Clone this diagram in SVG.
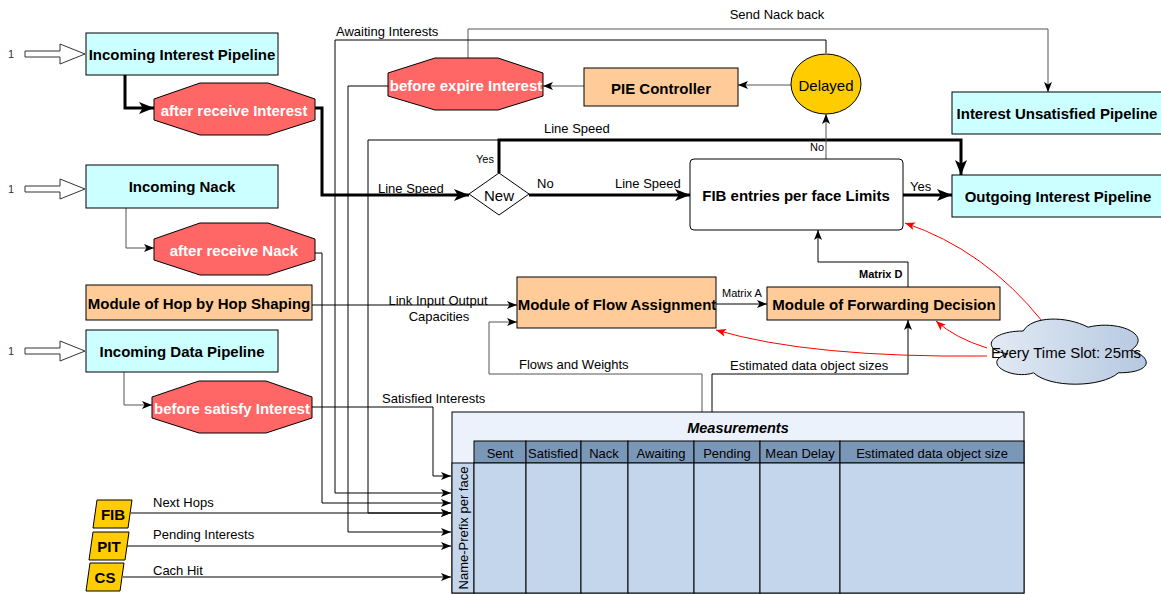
<svg xmlns="http://www.w3.org/2000/svg" width="1161" height="594" viewBox="0 0 1161 594">
<style>
text{font-family:"Liberation Sans",Arial,Helvetica,sans-serif;dominant-baseline:central;fill:#000}
.b14{font-size:15px;font-weight:bold;text-anchor:middle}
.w14{font-size:15px;font-weight:bold;text-anchor:middle;fill:#fff}
.l12{font-size:13px}
.c12{font-size:13px;text-anchor:middle}
.s10{font-size:11px}
.one{font-size:11px;fill:#333;text-anchor:middle}
.pipe{fill:#ccffff;stroke:#000;stroke-width:1}
.oct{fill:#ff6666;stroke:#000;stroke-width:1}
.mod{fill:#ffcc99;stroke:#000;stroke-width:1}
.tbl{fill:#ffcc00;stroke:#000;stroke-width:1}
.hol{fill:#fff;stroke:#333;stroke-width:1}
.c{fill:none;stroke:#000;stroke-width:1}
.g{stroke:#555}
.t{stroke-width:3}
.r{fill:none;stroke:#ff0000;stroke-width:1}
.hd{fill:#7a97b8;stroke:#000;stroke-width:1}
.bd{fill:#c4d6ec;stroke:#000;stroke-width:1}
</style>
<defs>
<marker id="a" viewBox="0 0 10 8" refX="10" refY="4" markerWidth="10" markerHeight="8" markerUnits="userSpaceOnUse" orient="auto"><path d="M0 0L10 4L0 8L2.5 4Z" fill="#000"/></marker>
<marker id="at" viewBox="0 0 10 8" refX="10" refY="4" markerWidth="15" markerHeight="12" markerUnits="userSpaceOnUse" orient="auto"><path d="M0 0L10 4L0 8L2.5 4Z" fill="#000"/></marker>
<marker id="ar" viewBox="0 0 10 8" refX="10" refY="4" markerWidth="10" markerHeight="8" markerUnits="userSpaceOnUse" orient="auto"><path d="M0 0L10 4L0 8L2.5 4Z" fill="#ff0000"/></marker>
<linearGradient id="cg" x1="0" y1="0" x2="1" y2="0"><stop offset="0" stop-color="#e2eaf4"/><stop offset="1" stop-color="#b6c8e1"/></linearGradient>
</defs>

<g id="input-arrows">
<text class="one" x="11" y="54">1</text>
<polygon class="hol" points="25,51 60,51 60,44 85,54 60,64 60,57 25,57"/>
<text class="one" x="11" y="189">1</text>
<polygon class="hol" points="25,186 60,186 60,179 85,189 60,199 60,192 25,192"/>
<text class="one" x="11" y="351">1</text>
<polygon class="hol" points="25,348 60,348 60,341 85,351 60,361 60,354 25,354"/>
</g>

<g id="connectors">
<path class="c t" d="M125 75V108H154" marker-end="url(#at)"/>
<path class="c t" d="M315 108H322V195H469" marker-end="url(#at)"/>
<path class="c t" d="M529 195H690" marker-end="url(#at)"/>
<path class="c t" d="M499 173V140H961V175" marker-end="url(#at)"/>
<path class="c t" d="M903 195H952" marker-end="url(#at)"/>
<path class="c" d="M499 140H368V513H451" marker-end="url(#a)"/>
<path class="c g" d="M826 159V114" marker-end="url(#a)"/>
<path class="c g" d="M791 85H738" marker-end="url(#a)"/>
<path class="c g" d="M584 86H543" marker-end="url(#a)"/>
<path class="c g" d="M468 58V29H1048V92" marker-end="url(#a)"/>
<path class="c" d="M826 53V40H335V493H451" marker-end="url(#a)"/>
<path class="c" d="M388 86H348V532H451" marker-end="url(#a)"/>
<path class="c" d="M315 253H322V503H451" marker-end="url(#a)"/>
<path class="c" d="M312 407H433V476H451" marker-end="url(#a)"/>
<path class="c g" d="M126 208V248H154" marker-end="url(#a)"/>
<path class="c g" d="M124 372V405H152" marker-end="url(#a)"/>
<path class="c" d="M312 305H517" marker-end="url(#a)"/>
<path class="c g" d="M702 412V374H489V322H517" marker-end="url(#a)"/>
<path class="c" d="M712 412V374H908V320" marker-end="url(#a)"/>
<path class="c" d="M716 304H767" marker-end="url(#a)"/>
<path class="c" d="M908 287V262H818V230" marker-end="url(#a)"/>
<path class="c" d="M131 513H451" marker-end="url(#a)"/>
<path class="c" d="M127 546H451" marker-end="url(#a)"/>
<path class="c" d="M123 577H451" marker-end="url(#a)"/>
<path class="r" d="M1042 321Q985 250 905 223" marker-end="url(#ar)"/>
<path class="r" d="M987 348Q955 338 936 321" marker-end="url(#ar)"/>
<path class="r" d="M987 356Q810 358 716 330" marker-end="url(#ar)"/>
</g>

<g id="connector-labels">
<text class="l12" x="336" y="31">Awaiting Interests</text>
<text class="c12" x="777" y="14">Send Nack back</text>
<text class="l12" x="378" y="188">Line Speed</text>
<text class="s10" x="476" y="159">Yes</text>
<text class="l12" x="544" y="128">Line Speed</text>
<text class="l12" x="537" y="183">No</text>
<text class="l12" x="615" y="183">Line Speed</text>
<text class="l12" x="910" y="186">Yes</text>
<text class="s10" x="810" y="147">No</text>
<text class="c12" x="438" y="300">Link Input Output</text>
<text class="c12" x="439" y="316">Capacities</text>
<text class="l12" x="382" y="398">Satisfied Interests</text>
<text x="722" y="293" style="font-size:11px">Matrix A</text>
<text x="859" y="274" style="font-size:11px;font-weight:bold">Matrix D</text>
<text class="l12" x="519" y="364">Flows and Weights</text>
<text class="l12" x="730" y="365">Estimated data object sizes</text>
<text class="l12" x="153" y="502">Next Hops</text>
<text class="l12" x="153" y="534">Pending Interests</text>
<text class="l12" x="153" y="570">Cach Hit</text>
</g>

<g id="incoming-interest-pipeline">
<rect class="pipe" x="86" y="33" width="192" height="42"/>
<text class="b14" x="182" y="54">Incoming Interest Pipeline</text>
</g>
<g id="after-receive-interest">
<polygon class="oct" points="200,83 268,83 315,99 315,120 268,135 200,135 154,120 154,99"/>
<text class="w14" x="234" y="110">after receive Interest</text>
</g>
<g id="incoming-nack">
<rect class="pipe" x="86" y="165" width="192" height="43"/>
<text class="b14" x="182" y="186">Incoming Nack</text>
</g>
<g id="after-receive-nack">
<polygon class="oct" points="200,223 268,223 315,239 315,260 268,275 200,275 154,260 154,239"/>
<text class="w14" x="234" y="250">after receive Nack</text>
</g>
<g id="hop-by-hop-shaping">
<rect class="mod" x="86" y="285" width="226" height="35"/>
<text class="b14" x="199" y="303">Module of Hop by Hop Shaping</text>
</g>
<g id="incoming-data-pipeline">
<rect class="pipe" x="86" y="330" width="192" height="42"/>
<text class="b14" x="182" y="351">Incoming Data Pipeline</text>
</g>
<g id="before-satisfy-interest">
<polygon class="oct" points="199,381 266,381 312,397 312,418 266,433 199,433 152,418 152,397"/>
<text class="w14" x="232" y="408">before satisfy Interest</text>
</g>
<g id="before-expire-interest">
<polygon class="oct" points="435,58 498,58 543,73 543,96 498,110 435,110 388,96 388,73"/>
<text class="w14" x="466" y="85">before expire Interest</text>
</g>
<g id="pie-controller">
<rect class="mod" x="584" y="68" width="154" height="38"/>
<text class="b14" x="661" y="88">PIE Controller</text>
</g>
<g id="delayed">
<ellipse cx="826" cy="84" rx="35" ry="30" fill="#ffcc00" stroke="#000"/>
<text x="826" y="85" style="font-size:15px;text-anchor:middle">Delayed</text>
</g>
<g id="interest-unsatisfied-pipeline">
<rect class="pipe" x="952" y="92" width="212" height="42"/>
<text class="b14" x="1057" y="113">Interest Unsatisfied Pipeline</text>
</g>
<g id="outgoing-interest-pipeline">
<rect class="pipe" x="952" y="175" width="212" height="42"/>
<text class="b14" x="1058" y="196">Outgoing Interest Pipeline</text>
</g>
<g id="new">
<polygon points="499,173 529,194 499,215 469,194" fill="#fff" stroke="#000"/>
<text x="499" y="195" style="font-size:15px;text-anchor:middle">New</text>
</g>
<g id="fib-limits">
<rect x="690" y="159" width="213" height="71" rx="4" fill="#fff" stroke="#000"/>
<text class="b14" x="796" y="195">FIB entries per face Limits</text>
</g>
<g id="flow-assignment">
<rect class="mod" x="517" y="277" width="199" height="51"/>
<text class="b14" x="617" y="304">Module of Flow Assignment</text>
</g>
<g id="forwarding-decision">
<rect class="mod" x="767" y="287" width="233" height="33"/>
<text class="b14" x="884" y="304">Module of Forwarding Decision</text>
</g>
<g id="time-slot">
<path d="M1023.25 331C988.65 331 980 350 1007.68 353.8C980 362.16 1011.14 380.4 1033.63 372.8C1049.2 388 1101.1 388 1118.4 372.8C1153 372.8 1153 357.6 1131.4 350C1153 334.8 1118.4 319.6 1088.1 327.2C1066.5 315.8 1031.9 315.8 1023.25 331Z" fill="url(#cg)" stroke="#000"/>
<text x="1066" y="352" style="font-size:15px;text-anchor:middle">Every Time Slot: 25ms</text>
</g>
<g id="fib">
<polygon class="tbl" points="97,500 132,500 128,528 93,528"/>
<text class="b14" x="113" y="514">FIB</text>
</g>
<g id="pit">
<polygon class="tbl" points="93,532 129,532 125,560 89,560"/>
<text class="b14" x="109" y="546">PIT</text>
</g>
<g id="cs">
<polygon class="tbl" points="90,563 124,563 120,591 86,591"/>
<text class="b14" x="105" y="577">CS</text>
</g>

<g id="measurements">
<rect x="452" y="412" width="572" height="181" fill="#ebf2fc" stroke="#000"/>
<text x="738" y="428" style="font-size:14.5px;font-weight:bold;font-style:italic;text-anchor:middle">Measurements</text>
<rect class="hd" x="474" y="441" width="52" height="22"/>
<rect class="hd" x="526" y="441" width="55" height="22"/>
<rect class="hd" x="581" y="441" width="47" height="22"/>
<rect class="hd" x="628" y="441" width="66" height="22"/>
<rect class="hd" x="694" y="441" width="66" height="22"/>
<rect class="hd" x="760" y="441" width="80" height="22"/>
<rect class="hd" x="840" y="441" width="184" height="22"/>
<rect class="bd" x="452" y="463" width="22" height="130"/>
<rect class="bd" x="474" y="463" width="52" height="130"/>
<rect class="bd" x="526" y="463" width="55" height="130"/>
<rect class="bd" x="581" y="463" width="47" height="130"/>
<rect class="bd" x="628" y="463" width="66" height="130"/>
<rect class="bd" x="694" y="463" width="66" height="130"/>
<rect class="bd" x="760" y="463" width="80" height="130"/>
<rect class="bd" x="840" y="463" width="184" height="130"/>
<text class="c12" x="500" y="453">Sent</text>
<text class="c12" x="553" y="453">Satisfied</text>
<text class="c12" x="604" y="453">Nack</text>
<text class="c12" x="661" y="453">Awaiting</text>
<text class="c12" x="727" y="453">Pending</text>
<text class="c12" x="800" y="453">Mean Delay</text>
<text class="c12" x="932" y="453">Estimated data object size</text>
<text class="c12" transform="translate(463,528) rotate(-90)">Name-Prefix per face</text>
</g>
</svg>
